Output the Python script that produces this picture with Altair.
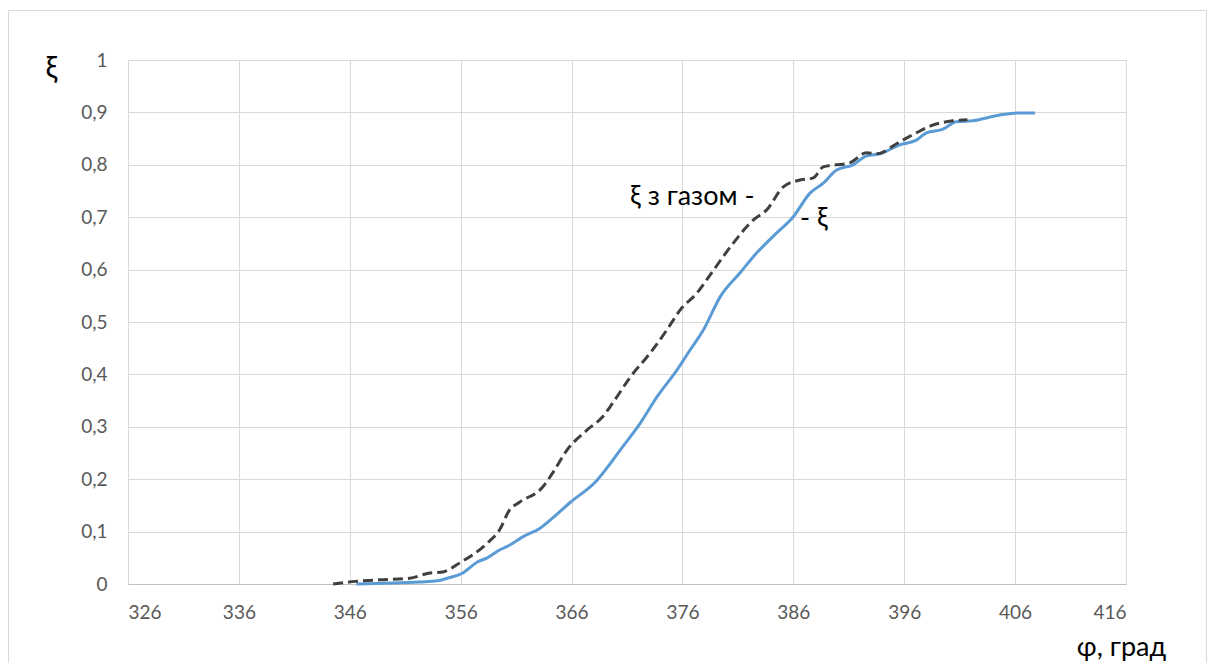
import altair as alt
import pandas as pd

# Series "ξ з газом" (dashed)
gas_phi = [344.5, 346.5, 348.7, 351.4, 353.2, 354.4, 355.9, 358.4, 359.5, 360.4, 361.3, 363.4,
           364.3, 365.6, 367.4, 368.8, 369.7, 371.3, 373.1, 374.6, 375.8, 377.3, 378.8, 380.6,
           382.4, 383.6, 385.1, 386.6, 387.8, 388.7, 391.1, 392.6, 393.5, 395.6, 397.1, 398.6,
           400.4, 401.7]
gas_xi = [0.0, 0.005, 0.008, 0.011, 0.021, 0.023, 0.040, 0.078, 0.103, 0.141, 0.156, 0.185,
          0.212, 0.256, 0.294, 0.319, 0.345, 0.395, 0.441, 0.485, 0.523, 0.555, 0.599, 0.651,
          0.695, 0.714, 0.758, 0.771, 0.775, 0.796, 0.804, 0.823, 0.821, 0.844, 0.861, 0.876,
          0.884, 0.886]

# Series "ξ" (solid blue)
base_phi = [346.6, 352.3, 353.9, 354.8, 356.2, 357.5, 358.4, 359.5, 360.4, 361.6, 363.2, 364.3,
            365.9, 368.3, 369.5, 370.4, 372.2, 373.7, 375.5, 376.7, 377.9, 379.4, 381.2, 382.7,
            384.5, 386.0, 387.5, 388.7, 389.9, 391.4, 392.6, 393.8, 395.6, 397.1, 398.0, 399.5,
            400.7, 402.2, 404.6, 406.2, 407.8]
base_xi = [0.0, 0.004, 0.006, 0.011, 0.021, 0.042, 0.050, 0.065, 0.074, 0.090, 0.107, 0.126,
           0.156, 0.198, 0.230, 0.256, 0.307, 0.357, 0.408, 0.447, 0.485, 0.548, 0.594, 0.632,
           0.670, 0.701, 0.746, 0.765, 0.790, 0.800, 0.817, 0.821, 0.838, 0.847, 0.861, 0.868,
           0.882, 0.884, 0.895, 0.899, 0.899]

# Data labels
label_text = ["ξ з газом -", "- ξ"]
label_phi = [382.5, 386.6]
label_xi = [0.739, 0.697]

x_ticks = [326, 336, 346, 356, 366, 376, 386, 396, 406, 416]
y_ticks = [0, 0.1, 0.2, 0.3, 0.4, 0.5, 0.6, 0.7, 0.8, 0.9, 1.0]

gas_df = pd.DataFrame({"phi": gas_phi, "xi": gas_xi})
base_df = pd.DataFrame({"phi": base_phi, "xi": base_xi})
lab_df = pd.DataFrame({"phi": label_phi, "xi": label_xi, "t": label_text})

FONT = "Lato"
W, H = 998, 524

xs = alt.X("phi:Q", scale=alt.Scale(domain=[326, 416], nice=False, zero=False),
           axis=alt.Axis(values=x_ticks, title="φ, град", grid=True, ticks=False,
                         labelPadding=19, labelFontSize=19, labelColor="#595959",
                         labelFont=FONT, domainColor="#bfbfbf", gridColor="#d9d9d9",
                         titleFont=FONT, titleFontSize=27, titleFontWeight="normal",
                         titleColor="#000000", titleX=993, titleY=63,
                         titleAlign="center", titleBaseline="middle"))
ys = alt.Y("xi:Q", scale=alt.Scale(domain=[0, 1], nice=False),
           axis=alt.Axis(values=y_ticks, title="ξ", grid=True, ticks=False, domain=False,
                         labelPadding=21, labelFontSize=19, labelColor="#595959",
                         labelFont=FONT, gridColor="#d9d9d9",
                         labelExpr="replace(format(datum.value, '.1~f'), '.', ',')",
                         titleFont=FONT, titleFontSize=30, titleFontWeight="normal",
                         titleColor="#000000", titleAngle=0, titleX=-77, titleY=8,
                         titleAlign="center", titleBaseline="middle"))

border = alt.Chart(pd.DataFrame({"k": [0]})).mark_rect(
    fill=None, stroke="#d9d9d9", strokeWidth=1
).encode(x=alt.value(-119.5), x2=alt.value(1078.5), y=alt.value(-49.5), y2=alt.value(604))

blue = alt.Chart(base_df).mark_line(color="#5b9bd5", strokeWidth=3, interpolate="monotone").encode(x=xs, y=ys)
gas = alt.Chart(gas_df).mark_line(color="#404040", strokeWidth=3, strokeDash=[10, 5],
                                  interpolate="monotone").encode(x="phi:Q", y="xi:Q")
lab1 = alt.Chart(lab_df.iloc[[0]]).mark_text(font=FONT, fontSize=27, color="#000000",
                                             baseline="middle", align="right").encode(
    x="phi:Q", y="xi:Q", text="t:N")
lab2 = alt.Chart(lab_df.iloc[[1]]).mark_text(font=FONT, fontSize=27, color="#000000",
                                             baseline="middle", align="left").encode(
    x="phi:Q", y="xi:Q", text="t:N")

chart = alt.layer(border, blue, gas, lab1, lab2).properties(
    width=W, height=H,
    background="white",
    autosize=alt.AutoSizeParams(type="none"),
    padding={"left": 120, "top": 52, "right": 81, "bottom": 79},
).configure_view(stroke=None)

chart.save("out.html", embed_options={"renderer": "svg", "actions": False})
